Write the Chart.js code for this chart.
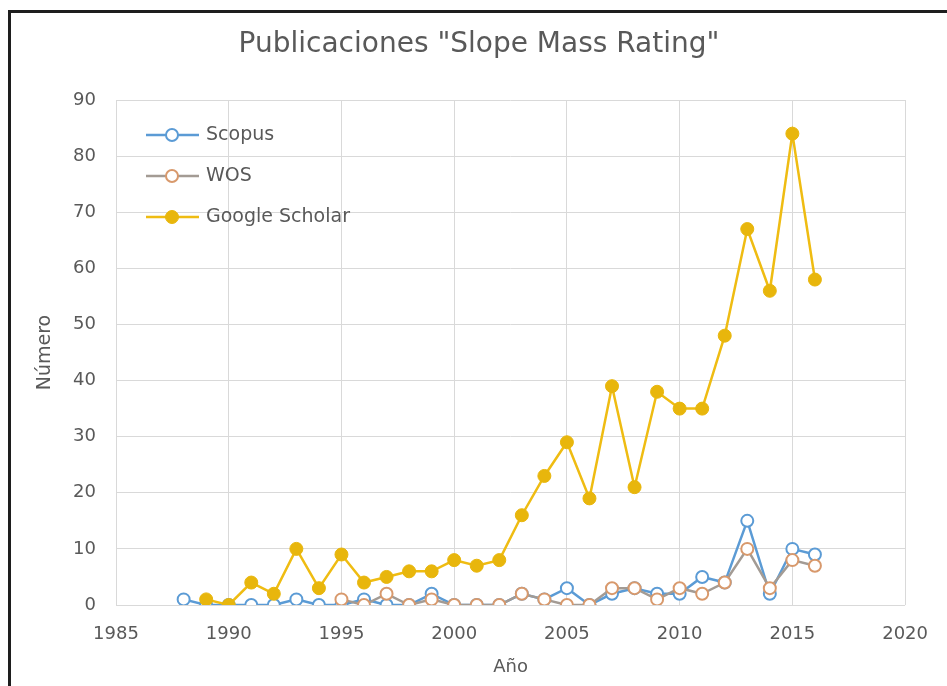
<!DOCTYPE html>
<html>
<head>
<meta charset="utf-8">
<script src="https://cdn.jsdelivr.net/npm/chart.js@4.4.1/dist/chart.umd.min.js"></script>
<style>
  html, body { margin: 0; padding: 0; background: #fff; }
  #wrap { position: absolute; left: 0; top: 0; width: 947px; height: 686px; }
  #frame { position: absolute; left: 8px; top: 10px; width: 980px; height: 720px;
           border-left: 3px solid #1e1e1e; border-top: 3px solid #1e1e1e; pointer-events: none; }
</style>
</head>
<body>
<div id="wrap"><canvas id="chart"></canvas></div>
<div id="frame"></div>
<script>
  // datos
  const years = [1988, 1989, 1990, 1991, 1992, 1993, 1994, 1995, 1996, 1997, 1998, 1999, 2000, 2001, 2002,
                 2003, 2004, 2005, 2006, 2007, 2008, 2009, 2010, 2011, 2012, 2013, 2014, 2015, 2016];
  const scopus = [1, 0, 0, 0, 0, 1, 0, 0, 1, 0, 0, 2, 0, 0, 0,
                  2, 1, 3, 0, 2, 3, 2, 2, 5, 4, 15, 2, 10, 9];
  const wos = [null, null, null, null, null, null, null, 1, 0, 2, 0, 1, 0, 0, 0,
               2, 1, 0, 0, 3, 3, 1, 3, 2, 4, 10, 3, 8, 7];
  const scholar = [null, 1, 0, 4, 2, 10, 3, 9, 4, 5, 6, 6, 8, 7, 8,
                   16, 23, 29, 19, 39, 21, 38, 35, 35, 48, 67, 56, 84, 58];
  const seriesNames = ["Scopus", "WOS", "Google Scholar"];
  const xTicks = [1985, 1990, 1995, 2000, 2005, 2010, 2015, 2020];
  const yTicks = [0, 10, 20, 30, 40, 50, 60, 70, 80, 90];

  const toPoints = (vals) => vals.map((v, i) => ({ x: years[i], y: v }));
  const textColor = "#595959";
  const font = "'DejaVu Sans', sans-serif";

  // leyenda dentro del area del grafico, como en Excel
  const insideLegend = {
    id: "insideLegend",
    afterDraw(chart) {
      const ctx = chart.ctx;
      ctx.save();
      chart.data.datasets.forEach((ds, i) => {
        const y = 135 + i * 41;
        ctx.strokeStyle = ds.borderColor;
        ctx.lineWidth = ds.borderWidth;
        ctx.beginPath();
        ctx.moveTo(146, y);
        ctx.lineTo(199, y);
        ctx.stroke();
        ctx.beginPath();
        ctx.arc(172, y, ds.pointRadius, 0, Math.PI * 2);
        ctx.fillStyle = ds.pointBackgroundColor;
        ctx.fill();
        ctx.lineWidth = ds.pointBorderWidth;
        ctx.strokeStyle = ds.pointBorderColor;
        ctx.stroke();
        ctx.fillStyle = textColor;
        ctx.font = "19px " + font;
        ctx.textBaseline = "middle";
        ctx.fillText(seriesNames[i], 206, y);
      });
      ctx.restore();
    }
  };

  new Chart(document.getElementById("chart"), {
    type: "line",
    data: {
      datasets: [
        {
          label: seriesNames[0],
          data: toPoints(scopus),
          borderColor: "#5B9BD5",
          borderWidth: 2.5,
          pointRadius: 6,
          pointBorderWidth: 2,
          pointBorderColor: "#5B9BD5",
          pointBackgroundColor: "#ffffff",
          order: 3
        },
        {
          label: seriesNames[1],
          data: toPoints(wos),
          borderColor: "#A39B94",
          borderWidth: 2.5,
          pointRadius: 6,
          pointBorderWidth: 2,
          pointBorderColor: "#D8996C",
          pointBackgroundColor: "#ffffff",
          order: 2
        },
        {
          label: seriesNames[2],
          data: toPoints(scholar),
          borderColor: "#EFBC12",
          borderWidth: 2.5,
          pointRadius: 6.5,
          pointBorderWidth: 1,
          pointBorderColor: "#E8B60C",
          pointBackgroundColor: "#E8B60C",
          order: 1
        }
      ]
    },
    options: {
      responsive: true,
      maintainAspectRatio: false,
      animation: false,
      layout: { padding: { left: 52, right: 41, top: 0, bottom: 0 } },
      plugins: {
        legend: { display: false },
        tooltip: { enabled: false },
        title: {
          display: true,
          text: 'Publicaciones "Slope Mass Rating"',
          color: textColor,
          font: { family: font, size: 28, weight: "normal" },
          padding: { top: 28, bottom: 38.4 }
        }
      },
      scales: {
        x: {
          type: "linear",
          min: xTicks[0],
          max: xTicks[xTicks.length - 1],
          afterBuildTicks: (scale) => { scale.ticks = xTicks.map((v) => ({ value: v })); },
          afterFit: (scale) => { scale.height = 81; },
          grid: { color: "#D9D9D9", drawTicks: false },
          border: { display: false },
          ticks: {
            color: textColor,
            font: { family: font, size: 18 },
            padding: 19,
            maxRotation: 0,
            callback: (v) => String(v)
          },
          title: {
            display: true,
            text: "Año",
            color: textColor,
            font: { family: font, size: 18 },
            padding: { top: 8, bottom: 8 }
          }
        },
        y: {
          min: yTicks[0],
          max: yTicks[yTicks.length - 1],
          afterBuildTicks: (scale) => { scale.ticks = yTicks.map((v) => ({ value: v })); },
          afterFit: (scale) => { scale.width = 64; },
          grid: { color: "#D9D9D9", drawTicks: false },
          border: { display: false },
          ticks: {
            color: textColor,
            font: { family: font, size: 18 },
            padding: 20
          },
          title: {
            display: true,
            text: "Número",
            color: textColor,
            font: { family: font, size: 19 },
            padding: { top: -18, bottom: -18 }
          }
        }
      }
    },
    plugins: [insideLegend]
  });
</script>
</body>
</html>
